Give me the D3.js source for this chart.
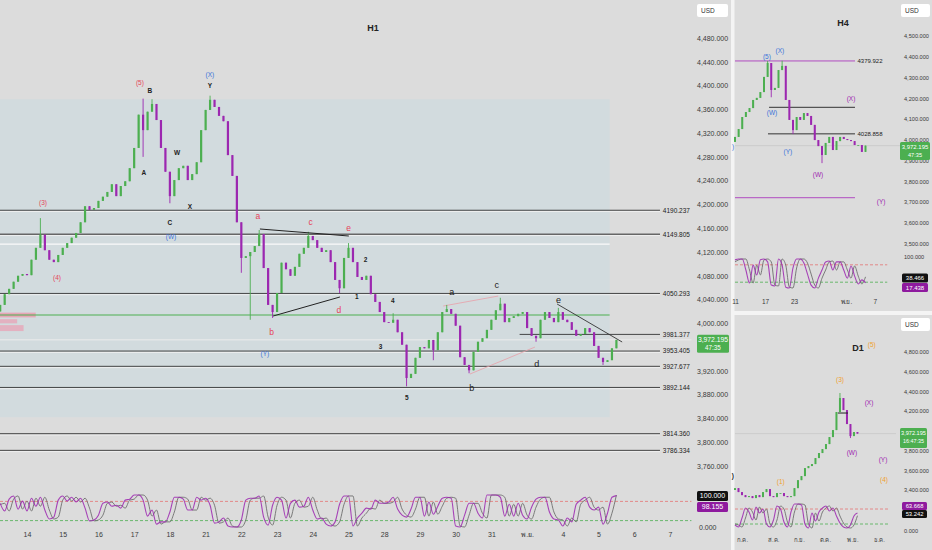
<!DOCTYPE html>
<html><head><meta charset="utf-8">
<script src="https://cdn.jsdelivr.net/npm/d3@7"></script>
<style>
body{margin:0;background:#dcdcdc;}
svg{display:block;font-family:"Liberation Sans","DejaVu Sans",Arial,"Noto Sans",sans-serif;}
</style></head><body>
<svg id="c" width="932" height="550"></svg>
<script>
// ================= DATA =================
// H1 panel (3-hour sampled bars, starting 0.75 day before Oct 14)
const h1DayLabels = ["14","15","16","17","18","21","22","23","24","25","28","29","30","31","พ.ย.","4","5","6","7"];
const h1StartDay = -0.75, h1BarStep = 0.125;
const h1Open0 = 4020;
const h1Close = [
4031,4049,4058,4070,4080,4083,4081,4107,4127,4149,
4123,4107,4103,4115,4127,4135,4144,4152,4170,4197,
4191,4194,4206,4213,4221,4234,4214,4231,4239,4261,
4295,4351,4325,4356,4369,4342,4295,4255,4214,4241,
4261,4265,4241,4251,4271,4325,4359,4376,4364,4349,
4340,4283,4248,4170,4110,4113,4120,4130,4150,4093,
4031,4019,4051,4102,4091,4080,4095,4117,4127,4147,
4140,4127,4120,4123,4103,4073,4059,4110,4127,4103,
4078,4073,4080,4049,4036,4019,4002,4001,4006,3985,
3964,3908,3915,3942,3960,3958,3972,3955,3985,4019,
4024,4016,3996,3943,3930,3921,3952,3969,3975,3989,
4006,4022,4033,4002,4009,4012,4016,4019,3992,3979,
3975,4006,4019,4009,4002,4019,4006,4002,3989,3979,
3982,3992,3985,3962,3942,3935,3938,3958,3972.195];
const h1High = {9:4177,32:4378,34:4377,47:4383,58:4157,69:4154,78:4135,88:4017,100:4031,112:4043,125:4026};
const h1Low  = {32:4280,38:4202,54:4085,56:4006,61:4009,76:4051,91:3894,97:3938,105:3916,120:3969,135:3930};
const h1StochK = [
74,50,87,97,56,81,50,90,65,93,
53,25,31,84,97,81,93,78,90,59,
19,22,37,74,78,65,68,59,84,87,
100,100,84,34,53,9,16,16,47,93,
93,87,53,53,93,84,90,68,12,16,
28,3,0,0,22,84,90,90,97,31,
6,68,93,84,28,74,84,62,65,93,
53,25,28,9,3,16,71,97,97,3,
28,43,59,56,84,74,74,78,93,56,
37,31,56,93,93,34,78,40,65,90,
93,90,3,0,37,74,74,43,28,100,
100,100,93,34,71,34,74,37,25,62,
87,93,93,47,25,22,3,28,16,71,
84,93,62,53,62,9,43,93,98.155];
const h1StochD = [
70,74,50,87,97,56,81,50,90,65,
93,53,25,31,84,97,81,93,78,90,
59,19,22,37,74,78,65,68,59,84,
87,100,100,84,34,53,9,16,16,47,
93,93,87,53,53,93,84,90,68,12,
16,28,3,0,0,22,84,90,90,97,
31,6,68,93,84,28,74,84,62,65,
93,53,25,28,9,3,16,71,97,97,
3,28,43,59,56,84,74,74,78,93,
56,37,31,56,93,93,34,78,40,65,
90,93,90,3,0,37,74,74,43,28,
100,100,100,93,34,71,34,74,37,25,
62,87,93,93,47,25,22,3,28,16,
71,84,93,62,53,62,9,43,100];
const h1PriceTicks = [4480,4440,4400,4360,4320,4280,4240,4200,4160,4120,4080,4040,4000,3920,3880,3840,3800,3760];
const h1Levels = [4190.237,4149.805,4050.293,3953.405,3927.677,3892.144,3814.360,3786.334];
const h1PartialLevel = {p:3981.377, from:13.79};
const h1WhiteLevel = 4133.4, h1GreenLevel = 4014;
const h1Zone = {d0:-0.76, d1:16.31, p0:4377, p1:3842};
const h1Triangle1 = [[[6.52,4158.7],[9.01,4146.9]],[[6.89,4012.3],[8.76,4044.3]]];
const h1Triangle2 = [[[11.65,4029.1],[13.19,4045.9]],[[12.40,3914.7],[14.22,3960.1]]];
const h1TrendLine = [[14.84,4032.5],[16.66,3968.6]];
const h1PinkBoxes = [[4018,4010,1.0],[4007,4000,0.48],[3997,3987,0.66]]; // price top, bottom, width in days
const h1Waves = [
 ["(3)","rs",0.45,4202],["(4)","rs",0.84,4076],["(5)","rs",3.16,4404],
 ["B","K",3.44,4391],["A","K",3.27,4253],["W","K",4.2,4286],["C","K",4.0,4169],["X","K",4.56,4196],
 ["(W)","b",4.03,4145],["(X)","b",5.12,4418],["Y","K",5.12,4399],
 ["a","r",6.46,4180],["c","r",7.94,4169],["e","r",9.0,4159],["b","r",6.85,3985],["d","r",8.73,4021],
 ["(Y)","b",6.66,3948],
 ["1","n",9.23,4043],["2","n",9.48,4106],["3","n",9.9,3960],["4","n",10.24,4037],["5","n",10.63,3874],
 ["a","k",11.89,4051],["b","k",12.45,3891],["c","k",13.15,4063],["d","k",14.27,3931],["e","k",14.88,4039]];
const lastPrice = 3972.195;

// H4 panel (half-day bars)
const h4DayLabels = [[0,"11"],[8.3,"17"],[16.3,"23"],[30.6,"พ.ย."],[38.6,"7"]];
const h4Open0 = 3990;
const h4Close = [
4014,4052,4110,4134,4153,4192,4202,4230,4303,4370,
4240,4250,4336,4356,4192,4096,4047,4110,4096,4129,
4115,4072,3999,3970,3927,3985,4014,3951,3994,4014,
4004,3999,3994,3975,3975,3942,3972.195];
const h4High = {9:4380,13:4381};
const h4Low = {10:4205,16:4028,24:3888};
const h4StochK = [97,100,100,62,17,79,45,97,100,90,10,7,100,79,3,0,69,100,100,86,48,10,0,34,62,90,93,62,90,90,62,34,76,41,14,28,17.438];
const h4StochD = [90,97,100,100,62,17,79,45,97,100,90,10,7,100,79,3,0,69,100,100,86,48,10,0,34,62,90,93,62,90,90,62,34,76,41,14,38.466];
const h4PriceTicks = [4500,4400,4300,4200,4100,4000,3900,3800,3700,3600,3500];
const h4Levels = [
 {p:4379.922, from:0, kind:"m", label:"4379.922"},
 {p:4156.7, from:9.4, kind:"k", label:""},
 {p:4028.858, from:9.1, kind:"k", label:"4028.858"},
 {p:3721.4, from:0, kind:"m", label:""}];
const h4LevelEnd = 33.1;
const h4Waves = [["(5)","b",8.8,4399],["(X)","b",12.4,4428],["(W)","b",10.2,4129],["(Y)","b",14.6,3941],
 ["(X)","p",32,4197],["(W)","p",22.9,3831],["(Y)","p",40.3,3701],[")","b",-0.55,3965]];

// D1 panel (bars ~3 sessions apart)
const d1MonthLabels = [[2,"ก.ค."],[10.9,"ส.ค."],[18.2,"ก.ย."],[25.7,"ต.ค."],[33.6,"พ.ย."],[41.1,"ธ.ค."]];
const d1Open0 = 3400;
const d1Close = [
3419,3379,3348,3328,3338,3318,3348,3328,3379,3409,
3338,3328,3369,3369,3338,3328,3338,3419,3500,3541,
3622,3643,3663,3724,3775,3815,3866,3937,4008,4191,
4333,4211,4069,3947,3988,3972.195];
const d1High = {30:4384};
const d1Low = {33:3927};
const d1StochK = [16,8,44,84,68,36,88,64,80,20,8,36,92,80,28,8,68,100,100,96,20,4,64,32,68,84,92,72,84,52,24,8,4,16,52,63.668];
const d1StochD = [20,16,8,44,84,68,36,88,64,80,20,8,36,92,80,28,8,68,100,100,96,20,4,64,32,68,84,92,72,84,52,24,8,4,16,53.242];
const d1PriceTicks = [4800,4600,4400,4200,3800,3600,3400];
const d1Waves = [["(5)","o",39.1,4871],["(3)","o",30,4516],["(X)","p",38.3,4282],["(W)","p",33.4,3775],
 ["(Y)","p",42.3,3704],["(4)","o",42.6,3501],["(1)","o",13.1,3480],[")","K",-0.6,3541]];
const d1Mark = {p:4181, k0:29.4, k1:32.3};

// ================= DRAW =================
const svg = d3.select("#c");
const UP = "#4caf50", DN = "#9c27b0", KCOL = "#9c27b0", DCOL = "#6e6e6e";
const waveColor = {r:"#e5445a", rs:"#e5445a", b:"#3b73d9", K:"#222", k:"#222", n:"#222", p:"#9c27b0", o:"#f0a030"};
const waveSize = {r:8.5, rs:6.5, b:6.5, K:6.5, k:9, n:6.5, p:6.5, o:6.5};
const waveWeight = {r:"normal", rs:"normal", b:"normal", K:"bold", k:"normal", n:"bold", p:"normal", o:"normal"};
const fmt3 = d3.format(",.3f");

svg.append("rect").attr("width",932).attr("height",550).attr("fill","#dcdcdc");

function drawCandles(g, xs, ys, closes, open0, highs, lows, w) {
  const bars = closes.map((c,i)=>{
    const o = i ? closes[i-1] : open0;
    return {i, o, c, h: highs[i] !== undefined ? Math.max(highs[i], o, c) : Math.max(o,c),
            l: lows[i] !== undefined ? Math.min(lows[i], o, c) : Math.min(o,c)};
  });
  const col = d => d.c >= d.o ? UP : DN;
  g.selectAll(null).data(bars).join("line")
    .attr("x1",d=>xs(d.i)).attr("x2",d=>xs(d.i))
    .attr("y1",d=>ys(d.h)).attr("y2",d=>ys(d.l))
    .attr("stroke",col).attr("stroke-width",0.9);
  g.selectAll(null).data(bars).join("rect")
    .attr("x",d=>xs(d.i)-w/2).attr("width",w)
    .attr("y",d=>ys(Math.max(d.o,d.c)))
    .attr("height",d=>Math.max(0.8, Math.abs(ys(d.o)-ys(d.c))))
    .attr("fill",col);
}
function drawStoch(g, xs, ys, K, D, xEnd) {
  [[80,"#e57373"],[20,"#4caf50"]].forEach(([v,c])=>{
    g.append("line").attr("x1",xEnd[0]).attr("x2",xEnd[1]).attr("y1",ys(v)).attr("y2",ys(v))
      .attr("stroke",c).attr("stroke-width",0.8).attr("stroke-dasharray","3,2");
  });
  const ln = d3.line().x((d,i)=>xs(i)).y(d=>ys(d)).curve(d3.curveMonotoneX);
  g.append("path").attr("d",ln(D)).attr("fill","none").attr("stroke",DCOL).attr("stroke-width",0.9);
  g.append("path").attr("d",ln(K)).attr("fill","none").attr("stroke",KCOL).attr("stroke-width",1.1).attr("opacity",0.85);
}
function priceAxis(g, x, ys, ticks, fs) {
  const ax = d3.axisRight(ys).tickValues(ticks).tickFormat(fmt3).tickSize(0).tickPadding(0);
  const a = g.append("g").attr("transform",`translate(${x},0)`).call(ax);
  a.select(".domain").remove();
  a.selectAll("text").attr("font-size",fs).attr("fill","#3a3a3a").attr("font-family",'"Liberation Sans",Arial,sans-serif');
}
function tagBox(g, x, yc, w, h, fill, lines, fs) {
  g.append("rect").attr("x",x).attr("y",yc-h/2).attr("width",w).attr("height",h).attr("rx",1.5).attr("fill",fill);
  lines.forEach((t,k)=>{
    g.append("text").attr("x",x+w/2).attr("y",yc-h/2+ (lines.length===1? h/2+2.3 : 7+k*8))
      .attr("text-anchor","middle").attr("font-size",fs[k]).attr("fill","#fff").text(t);
  });
}
function usdBox(g, x, y, w) {
  g.append("rect").attr("x",x).attr("y",y).attr("width",w).attr("height",13).attr("rx",2).attr("fill","#fff");
  g.append("text").attr("x",x+4).attr("y",y+9).attr("font-size",6.5).attr("fill","#333").text("USD");
}
function waves(g, list, xs, ys) {
  g.selectAll(null).data(list).join("text")
    .attr("x",d=>xs(d[2])).attr("y",d=>ys(d[3]))
    .attr("text-anchor","middle").attr("dominant-baseline","middle")
    .attr("font-size",d=>waveSize[d[1]]).attr("font-weight",d=>waveWeight[d[1]])
    .attr("fill",d=>waveColor[d[1]]).text(d=>d[0]);
}

// ---------- H1 ----------
const gH1 = svg.append("g");
const xH1 = d3.scaleLinear().domain([0,18]).range([27,670]);
const yH1 = d3.scaleLinear().domain([3760,4480]).range([466,38]);
const barX = i => xH1(h1StartDay + i*h1BarStep);

gH1.append("rect").attr("x",xH1(h1Zone.d0)).attr("width",xH1(h1Zone.d1)-xH1(h1Zone.d0))
  .attr("y",yH1(h1Zone.p0)).attr("height",yH1(h1Zone.p1)-yH1(h1Zone.p0)).attr("fill","#d2dbde");
gH1.append("text").attr("x",373).attr("y",31).attr("text-anchor","middle").attr("font-size",9).attr("font-weight","bold").attr("fill","#222").text("H1");

h1PinkBoxes.forEach(([pt,pb,w],k)=>{
  gH1.append("rect").attr("x",0).attr("width",xH1(h1StartDay+w)-xH1(h1StartDay))
    .attr("y",yH1(pt)).attr("height",yH1(pb)-yH1(pt)).attr("fill","#eaa0b4").attr("opacity",k===0?0.9:0.7);
});
gH1.append("line").attr("x1",0).attr("x2",xH1(18.6)).attr("y1",yH1(lastPrice)).attr("y2",yH1(lastPrice))
  .attr("stroke","#ececec").attr("stroke-width",1);
h1Levels.forEach(p=>{
  const y = yH1(p);
  gH1.append("line").attr("x1",0).attr("x2",xH1(17.72)).attr("y1",y+1.3).attr("y2",y+1.3).attr("stroke","#f2f2f2").attr("stroke-width",0.9);
  gH1.append("line").attr("x1",0).attr("x2",xH1(17.72)).attr("y1",y).attr("y2",y)
    .attr("stroke", p===4149.805 ? "#666" : "#333").attr("stroke-width", p===4149.805 ? 1.6 : 0.9);
  gH1.append("text").attr("x",xH1(17.8)).attr("y",y+2.3).attr("font-size",6.5).attr("fill","#222").text(p.toFixed(3));
});
{
  const y = yH1(h1PartialLevel.p);
  gH1.append("line").attr("x1",xH1(h1PartialLevel.from)).attr("x2",xH1(17.72)).attr("y1",y).attr("y2",y).attr("stroke","#333").attr("stroke-width",0.9);
  gH1.append("text").attr("x",xH1(17.8)).attr("y",y+2.3).attr("font-size",6.5).attr("fill","#222").text(h1PartialLevel.p.toFixed(3));
}
gH1.append("line").attr("x1",0).attr("x2",xH1(h1Zone.d1)).attr("y1",yH1(h1WhiteLevel)).attr("y2",yH1(h1WhiteLevel)).attr("stroke","#fafafa").attr("stroke-width",1.2);
gH1.append("line").attr("x1",0).attr("x2",xH1(h1Zone.d1)).attr("y1",yH1(h1GreenLevel)).attr("y2",yH1(h1GreenLevel)).attr("stroke","#4caf50").attr("stroke-width",1);

const segLine = (g, seg, col, w) => g.append("line")
  .attr("x1",xH1(seg[0][0])).attr("y1",yH1(seg[0][1])).attr("x2",xH1(seg[1][0])).attr("y2",yH1(seg[1][1]))
  .attr("stroke",col).attr("stroke-width",w);
h1Triangle2.forEach(s=>segLine(gH1,s,"#e8a0a8",0.8));

drawCandles(gH1.append("g"), barX, yH1, h1Close, h1Open0, h1High, h1Low, 2.2);

h1Triangle1.forEach(s=>segLine(gH1,s,"#222",1));
segLine(gH1,h1TrendLine,"#333",0.9);
waves(gH1, h1Waves, xH1, yH1);

priceAxis(gH1, 697, yH1, h1PriceTicks, 7);
{
  const ax = d3.axisBottom(xH1).tickValues(d3.range(h1DayLabels.length)).tickFormat(i=>h1DayLabels[i]).tickSize(0).tickPadding(0);
  const a = gH1.append("g").attr("transform","translate(0,532)").call(ax);
  a.select(".domain").remove();
  a.selectAll("text").attr("font-size",7).attr("fill","#3a3a3a");
}
const yS1 = d3.scaleLinear().domain([0,100]).range([527,495]);
drawStoch(gH1.append("g"), barX, yS1, h1StochK, h1StochD, [0, xH1(18.6)]);
gH1.append("text").attr("x",699).attr("y",yS1(0)+2.5).attr("font-size",7).attr("fill","#3a3a3a").text(fmt3(0));
tagBox(gH1, 697, 496, 31, 10, "#111", [fmt3(100)], [7]);
tagBox(gH1, 697, 507, 31, 10, "#8e1a9e", [fmt3(h1StochK[h1StochK.length-1])], [7]);
tagBox(gH1, 697, yH1(lastPrice)+4, 32, 18, "#4caf50", [fmt3(lastPrice),"47:35"], [6.8,6.3]);
usdBox(gH1, 697, 4, 31);

svg.append("rect").attr("x",731).attr("y",0).attr("width",3.5).attr("height",550).attr("fill","#f4f4f4");
svg.append("rect").attr("x",734).attr("y",311).attr("width",198).attr("height",4).attr("fill","#f4f4f4");

// ---------- H4 ----------
const gH4 = svg.append("g");
const xH4 = d3.scaleLinear().domain([0,40]).range([735,880]);
const yH4 = d3.scaleLinear().domain([3500,4500]).range([243.7,36]);
gH4.append("text").attr("x",843).attr("y",26).attr("text-anchor","middle").attr("font-size",9).attr("font-weight","bold").attr("fill","#222").text("H4");
gH4.append("line").attr("x1",735).attr("x2",xH4(46)).attr("y1",yH4(lastPrice)).attr("y2",yH4(lastPrice)).attr("stroke","#c8c8c8").attr("stroke-width",0.8);
h4Levels.forEach(L=>{
  const y = yH4(L.p);
  gH4.append("line").attr("x1",xH4(L.from)).attr("x2",xH4(h4LevelEnd)).attr("y1",y).attr("y2",y)
    .attr("stroke",L.kind==="m"?"#b04cc0":"#333").attr("stroke-width",1);
  if (L.label) gH4.append("text").attr("x",xH4(h4LevelEnd)+2.5).attr("y",y+2.3).attr("font-size",6).attr("fill","#222").text(L.label);
});
drawCandles(gH4.append("g"), xH4, yH4, h4Close, h4Open0, h4High, h4Low, 2.0);
waves(gH4, h4Waves, xH4, yH4);
priceAxis(gH4, 904, yH4, h4PriceTicks, 5.6);
{
  const ax = d3.axisBottom(xH4).tickValues(h4DayLabels.map(d=>d[0])).tickFormat((d,i)=>h4DayLabels[i][1]).tickSize(0).tickPadding(0);
  const a = gH4.append("g").attr("transform","translate(0,299)").call(ax);
  a.select(".domain").remove();
  a.selectAll("text").attr("font-size",6.5).attr("fill","#3a3a3a");
}
const yS4 = d3.scaleLinear().domain([0,100]).range([288,259]);
drawStoch(gH4.append("g"), xH4, yS4, h4StochK, h4StochD, [735, xH4(42)]);
gH4.append("text").attr("x",904).attr("y",yS4(100)-0.5).attr("font-size",5.6).attr("fill","#3a3a3a").text(fmt3(100));
tagBox(gH4, 902, 278, 26, 9, "#111", [fmt3(h4StochD[h4StochD.length-1])], [6]);
tagBox(gH4, 902, 287.5, 26, 9, "#8e1a9e", [fmt3(h4StochK[h4StochK.length-1])], [6]);
tagBox(gH4, 900, 151, 30, 18, "#4caf50", [fmt3(lastPrice),"47:35"], [6,5.6]);
usdBox(gH4, 901, 4, 29);

// ---------- D1 ----------
const gD1 = svg.append("g");
const xD1 = d3.scaleLinear().domain([0,41.1]).range([735,878.8]);
const yD1 = d3.scaleLinear().domain([3400,4800]).range([490,352]);
gD1.append("text").attr("x",858).attr("y",351).attr("text-anchor","middle").attr("font-size",9).attr("font-weight","bold").attr("fill","#222").text("D1");
gD1.append("line").attr("x1",735).attr("x2",xD1(46)).attr("y1",yD1(lastPrice)).attr("y2",yD1(lastPrice)).attr("stroke","#c8c8c8").attr("stroke-width",0.8);
drawCandles(gD1.append("g"), xD1, yD1, d1Close, d1Open0, d1High, d1Low, 2.0);
gD1.append("line").attr("x1",xD1(d1Mark.k0)).attr("x2",xD1(d1Mark.k1)).attr("y1",yD1(d1Mark.p)).attr("y2",yD1(d1Mark.p)).attr("stroke","#222").attr("stroke-width",1);
waves(gD1, d1Waves, xD1, yD1);
priceAxis(gD1, 904, yD1, d1PriceTicks, 5.6);
{
  const ax = d3.axisBottom(xD1).tickValues(d1MonthLabels.map(d=>d[0])).tickFormat((d,i)=>d1MonthLabels[i][1]).tickSize(0).tickPadding(0);
  const a = gD1.append("g").attr("transform","translate(0,538)").call(ax);
  a.select(".domain").remove();
  a.selectAll("text").attr("font-size",6).attr("fill","#3a3a3a");
}
const yS6 = d3.scaleLinear().domain([0,100]).range([529,504]);
drawStoch(gD1.append("g"), xD1, yS6, d1StochK, d1StochD, [735, xD1(44)]);
gD1.append("text").attr("x",904).attr("y",533).attr("font-size",5.6).attr("fill","#3a3a3a").text(fmt3(0));
tagBox(gD1, 902, 506, 25, 8, "#8e1a9e", [fmt3(d1StochK[d1StochK.length-1])], [5.8]);
tagBox(gD1, 902, 514, 25, 8, "#111", [fmt3(d1StochD[d1StochD.length-1])], [5.8]);
tagBox(gD1, 900, 438, 27, 20, "#4caf50", [fmt3(lastPrice),"16:47:35"], [5.6,5.4]);
usdBox(gD1, 901, 318, 29);
</script>
</body></html>
